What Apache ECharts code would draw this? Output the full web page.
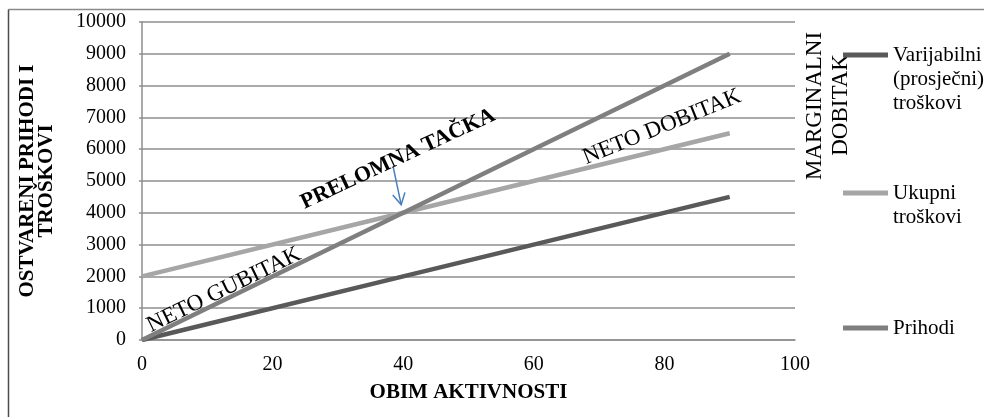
<!DOCTYPE html>
<html>
<head>
<meta charset="utf-8">
<script src="https://cdn.jsdelivr.net/npm/echarts@6/dist/echarts.min.js"></script>
<style>
  html, body { margin: 0; padding: 0; background: #fff; }
  #chart { width: 984px; height: 417px; }
</style>
</head>
<body>
<div id="chart"></div>
<script>
// Volume of activity (x) and the three cost / revenue lines
var activity = [0, 40, 90];
var variableCosts = [0, 2000, 4500];
var totalCosts = [2000, 4000, 6500];
var revenue = [0, 4000, 9000];

var seriesNames = ['Varijabilni (prosječni) troškovi', 'Ukupni troškovi', 'Prihodi'];
var legendText = {
  'Varijabilni (prosječni) troškovi': '\n\nVarijabilni\n(prosječni)\ntroškovi',
  'Ukupni troškovi': '\nUkupni\ntroškovi',
  'Prihodi': 'Prihodi'
};

var xTicks = { min: 0, max: 100, interval: 20 };
var yTicks = { min: 0, max: 10000, interval: 1000 };

var SERIF = '"Liberation Serif", "Times New Roman", serif';
var lineColors = ['#595959', '#a6a6a6', '#7f7f7f'];

function pairs(xs, ys) {
  return xs.map(function (x, i) { return [x, ys[i]]; });
}

var chart = echarts.init(document.getElementById('chart'), null, { renderer: 'canvas' });

function legendBlock(name, top) {
  return {
    show: true,
    orient: 'vertical',
    left: 843,
    top: top,
    padding: 0,
    itemWidth: 45,
    itemHeight: 5,
    itemGap: 0,
    selectedMode: false,
    data: [{ name: name, icon: 'rect' }],
    formatter: function (n) { return legendText[n]; },
    textStyle: { fontFamily: SERIF, fontSize: 21, color: '#000', lineHeight: 24 }
  };
}

var option = {
  animation: false,
  backgroundColor: '#fff',
  grid: { left: 142, right: 189, top: 22, bottom: 77, containLabel: false },
  legend: [
    legendBlock(seriesNames[0], -5),
    legendBlock(seriesNames[1], 157),
    legendBlock(seriesNames[2], 316)
  ],
  xAxis: {
    type: 'value',
    min: xTicks.min, max: xTicks.max, interval: xTicks.interval,
    name: 'OBIM AKTIVNOSTI',
    nameLocation: 'middle',
    nameGap: 42,
    nameTextStyle: { fontFamily: SERIF, fontSize: 21, fontWeight: 'bold', color: '#000' },
    axisLine: { show: true, lineStyle: { color: '#8e8e8e', width: 1.5 } },
    axisTick: { show: false },
    splitLine: { show: false },
    axisLabel: { fontFamily: SERIF, fontSize: 20, color: '#000', margin: 15,
      formatter: function (v) { return String(v); } }
  },
  yAxis: {
    type: 'value',
    min: yTicks.min, max: yTicks.max, interval: yTicks.interval,
    name: 'OSTVARENI PRIHODI I\nTROŠKOVI',
    nameLocation: 'middle',
    nameGap: 86,
    nameRotate: 90,
    nameTextStyle: { fontFamily: SERIF, fontSize: 21, fontWeight: 'bold', color: '#000', lineHeight: 19, align: 'center' },
    axisLine: { show: true, lineStyle: { color: '#8e8e8e', width: 1.5 } },
    axisTick: { show: true, length: 3, lineStyle: { color: '#8e8e8e', width: 1.5 } },
    splitLine: { show: true, lineStyle: { color: '#8e8e8e', width: 1.5 } },
    axisLabel: { fontFamily: SERIF, fontSize: 20, color: '#000', margin: 16,
      formatter: function (v) { return String(v); } }
  },
  series: [
    { name: seriesNames[0], type: 'line', data: pairs(activity, variableCosts), symbol: 'none',
      lineStyle: { color: lineColors[0], width: 4.5 }, itemStyle: { color: lineColors[0] } },
    { name: seriesNames[1], type: 'line', data: pairs(activity, totalCosts), symbol: 'none',
      lineStyle: { color: lineColors[1], width: 4.5 }, itemStyle: { color: lineColors[1] } },
    { name: seriesNames[2], type: 'line', data: pairs(activity, revenue), symbol: 'none',
      lineStyle: { color: lineColors[2], width: 4.5 }, itemStyle: { color: lineColors[2] } }
  ]
};

chart.setOption(option);

// Annotations: break-even arrow, marginal-profit brace and the rotated region labels
var deg = Math.PI / 180;
var n = activity.length - 1;
var top = chart.convertToPixel({ gridIndex: 0 }, [activity[n], revenue[n]]);
var bot = chart.convertToPixel({ gridIndex: 0 }, [activity[n], variableCosts[n]]);
var be = chart.convertToPixel({ gridIndex: 0 }, [activity[1], revenue[1]]);

var blue = '#4a7ebb';
var braceStyle = { stroke: blue, lineWidth: 1.5, fill: null };
var xv = top[0] + 17;
var ym = (top[1] + bot[1]) / 2;
var r = 5;

function seg(x1, y1, x2, y2) {
  return { type: 'line', shape: { x1: x1, y1: y1, x2: x2, y2: y2 }, style: braceStyle };
}
function curve(x1, y1, cx, cy, x2, y2) {
  return { type: 'bezierCurve', shape: { x1: x1, y1: y1, cpx1: cx, cpy1: cy, x2: x2, y2: y2 }, style: braceStyle };
}

var brace = [
  seg(top[0], top[1], xv - r, top[1]),
  curve(xv - r, top[1], xv, top[1], xv, top[1] + r),
  seg(xv, top[1] + r, xv, ym - r),
  curve(xv, ym - r, xv, ym, xv + r, ym),
  seg(xv + r, ym, xv + 23, ym),
  curve(xv + r, ym, xv, ym, xv, ym + r),
  seg(xv, ym + r, xv, bot[1] - r),
  curve(xv, bot[1] - r, xv, bot[1], xv - r, bot[1]),
  seg(xv - r, bot[1], bot[0], bot[1])
];

var tip = [be[0] - 2, be[1] - 8];
var tail = [be[0] - 10, be[1] - 46];
var dirA = Math.atan2(tip[1] - tail[1], tip[0] - tail[0]);
var headLen = 13, headAng = 0.5;
var h1 = [tip[0] - headLen * Math.cos(dirA - headAng), tip[1] - headLen * Math.sin(dirA - headAng)];
var h2 = [tip[0] - headLen * Math.cos(dirA + headAng), tip[1] - headLen * Math.sin(dirA + headAng)];

var textBase = { fill: '#000', align: 'center', verticalAlign: 'middle' };
function label(txt, x, y, rot, font) {
  return { type: 'text', x: x, y: y, rotation: rot,
    style: Object.assign({ text: txt, font: font }, textBase) };
}

chart.setOption({
  graphic: [
    // outer frame
    seg(8.5, 9.5, 984, 9.5),
    seg(8.5, 9.5, 8.5, 417)
  ].map(function (g, i) {
    g.style = { stroke: i === 0 ? '#8a8a8a' : '#4d4d4d', lineWidth: 1.5 };
    return g;
  }).concat(brace).concat([
    // break-even arrow
    { type: 'polyline', shape: { points: [tail, tip] }, style: { stroke: blue, lineWidth: 1.5 } },
    { type: 'polyline', shape: { points: [h1, tip, h2] }, style: { stroke: blue, lineWidth: 1.5, fill: null } },
    // region labels
    label('NETO GUBITAK', 224, 290, 26 * deg, '23px ' + SERIF),
    label('PRELOMNA TAČKA', 398, 159, 25 * deg, 'bold 22px ' + SERIF),
    label('NETO DOBITAK', 662, 127, 22 * deg, '23px ' + SERIF),
    label('MARGINALNI', 815, 106, 90 * deg, '23px ' + SERIF),
    label('DOBITAK', 841, 105, 90 * deg, '23px ' + SERIF)
  ])
});
</script>
</body>
</html>
